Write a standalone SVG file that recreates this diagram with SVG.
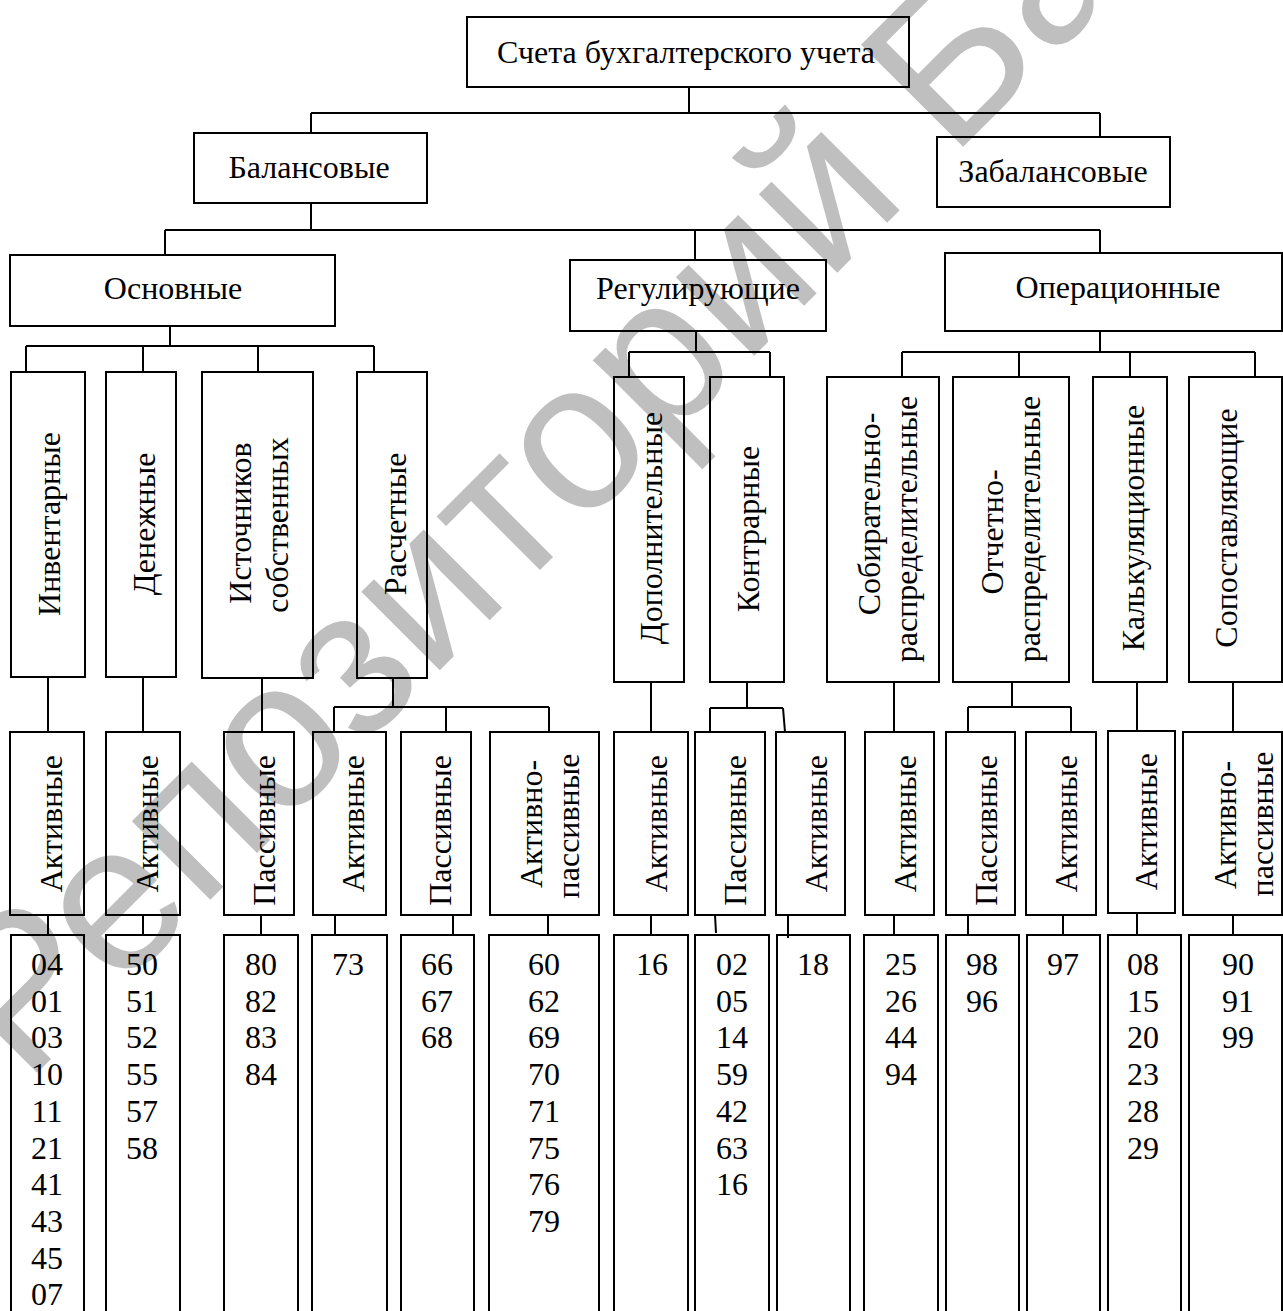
<svg xmlns="http://www.w3.org/2000/svg" width="1283" height="1311" viewBox="0 0 1283 1311">
<style>
.b{fill:none;stroke:#000;stroke-width:2}
.c{fill:none;stroke:#000;stroke-width:2}
.t{font-family:"Liberation Serif","Times New Roman",serif;font-size:32px;fill:#000}
.m{text-anchor:middle}
.e{text-anchor:end}
.wm{font-family:"Liberation Sans",Arial,sans-serif;font-size:210px;fill:#bfbfbf}
</style>
<rect width="1283" height="1311" fill="#fff"/>
<text class="wm" x="25" y="1085" transform="rotate(-45 25 1085)">Репозиторий БарГУ</text>

<g id="connectors">
<path class="c" d="M689 87V113M311 113H1100M311 113V133M1100 113V137"/>
<path class="c" d="M311 203V230M165 230H1100M165 230V255M695 230V260M1100 230V253"/>
<path class="c" d="M170 326V346M26 346H374M26 346V372M143 346V372M258 346V372M374 346V372"/>
<path class="c" d="M696 331V352M629 352H770M629 352V377M770 352V377"/>
<path class="c" d="M1100 331V352M902 352H1255M902 352V377M1019 352V377M1130 352V377M1255 352V377"/>
<path class="c" d="M48 677V732M143 677V732M262 678V732"/>
<path class="c" d="M393 678V707M334 707H549M334 707V732M446 707V732M549 707V732"/>
<path class="c" d="M651 682V732M747 682V708M710 708H783M710 708V732M783 708L785 732"/>
<path class="c" d="M894 682V732M1012 682V707M968 707H1071M968 707V732M1071 707V732M1137 682V731M1233 682V732"/>
<path class="c" d="M48 915V935M143 915V935M261 915V935M335 915V935M453 915V935M548 915V935M651 915V935M715 915L716 933M788 915V938M894 915V935M968 915V935M1063 915V935M1137 913V935M1233 915V935"/>
</g>

<g id="n-root"><rect class="b" x="467" y="17" width="442" height="70"/><text class="t m" x="686" y="63">Счета бухгалтерского учета</text></g>
<g id="n-balance"><rect class="b" x="194" y="133" width="233" height="70"/><text class="t m" x="309" y="178">Балансовые</text></g>
<g id="n-offbalance"><rect class="b" x="937" y="137" width="233" height="70"/><text class="t m" x="1053" y="182">Забалансовые</text></g>
<g id="n-osn"><rect class="b" x="10" y="255" width="325" height="71"/><text class="t m" x="173" y="299">Основные</text></g>
<g id="n-reg"><rect class="b" x="570" y="260" width="256" height="71"/><text class="t m" x="698" y="299">Регулирующие</text></g>
<g id="n-oper"><rect class="b" x="945" y="253" width="337" height="78"/><text class="t m" x="1118" y="298">Операционные</text></g>

<g id="n-inv"><rect class="b" x="11" y="372" width="74" height="305"/><text class="t m" transform="translate(60 524) rotate(-90)">Инвентарные</text></g>
<g id="n-den"><rect class="b" x="106" y="372" width="70" height="305"/><text class="t m" transform="translate(155 524) rotate(-90)">Денежные</text></g>
<g id="n-ist"><rect class="b" x="202" y="372" width="111" height="306"/><text class="t m" transform="translate(251 523) rotate(-90)">Источников</text><text class="t m" transform="translate(288 525) rotate(-90)">собственных</text></g>
<g id="n-ras"><rect class="b" x="357" y="372" width="70" height="306"/><text class="t m" transform="translate(406 524) rotate(-90)">Расчетные</text></g>
<g id="n-dop"><rect class="b" x="614" y="377" width="70" height="305"/><text class="t m" transform="translate(662 528) rotate(-90)">Дополнительные</text></g>
<g id="n-kontr"><rect class="b" x="710" y="377" width="74" height="305"/><text class="t m" transform="translate(759 529) rotate(-90)">Контрарные</text></g>
<g id="n-sob"><rect class="b" x="827" y="377" width="112" height="305"/><text class="t m" transform="translate(880 514) rotate(-90)">Собирательно-</text><text class="t m" transform="translate(917 529) rotate(-90)">распределительные</text></g>
<g id="n-otch"><rect class="b" x="953" y="377" width="116" height="305"/><text class="t m" transform="translate(1003 532) rotate(-90)">Отчетно-</text><text class="t m" transform="translate(1040 529) rotate(-90)">распределительные</text></g>
<g id="n-kalk"><rect class="b" x="1093" y="377" width="74" height="305"/><text class="t m" transform="translate(1144 528) rotate(-90)">Калькуляционные</text></g>
<g id="n-sop"><rect class="b" x="1189" y="377" width="93" height="305"/><text class="t m" transform="translate(1237 528) rotate(-90)">Сопоставляющие</text></g>

<g id="r3-1"><rect class="b" x="10" y="732" width="74" height="183"/><text class="t e" transform="translate(62 755) rotate(-90)">Активные</text></g>
<g id="r3-2"><rect class="b" x="106" y="732" width="74" height="183"/><text class="t e" transform="translate(158 755) rotate(-90)">Активные</text></g>
<g id="r3-3"><rect class="b" x="224" y="732" width="70" height="183"/><text class="t e" transform="translate(275 755) rotate(-90)">Пассивные</text></g>
<g id="r3-4"><rect class="b" x="313" y="732" width="73" height="183"/><text class="t e" transform="translate(364 755) rotate(-90)">Активные</text></g>
<g id="r3-5"><rect class="b" x="401" y="732" width="70" height="183"/><text class="t e" transform="translate(451 755) rotate(-90)">Пассивные</text></g>
<g id="r3-6"><rect class="b" x="490" y="732" width="109" height="183"/><text class="t m" transform="translate(542 824) rotate(-90)">Активно-</text><text class="t m" transform="translate(579 826) rotate(-90)">пассивные</text></g>
<g id="r3-7"><rect class="b" x="614" y="732" width="74" height="183"/><text class="t e" transform="translate(667 755) rotate(-90)">Активные</text></g>
<g id="r3-8"><rect class="b" x="695" y="732" width="70" height="183"/><text class="t e" transform="translate(746 755) rotate(-90)">Пассивные</text></g>
<g id="r3-9"><rect class="b" x="776" y="732" width="69" height="183"/><text class="t e" transform="translate(827 755) rotate(-90)">Активные</text></g>
<g id="r3-10"><rect class="b" x="865" y="732" width="69" height="183"/><text class="t e" transform="translate(916 755) rotate(-90)">Активные</text></g>
<g id="r3-11"><rect class="b" x="946" y="732" width="69" height="183"/><text class="t e" transform="translate(997 755) rotate(-90)">Пассивные</text></g>
<g id="r3-12"><rect class="b" x="1026" y="732" width="70" height="183"/><text class="t e" transform="translate(1077 755) rotate(-90)">Активные</text></g>
<g id="r3-13"><rect class="b" x="1108" y="731" width="67" height="182"/><text class="t e" transform="translate(1157 753) rotate(-90)">Активные</text></g>
<g id="r3-14"><rect class="b" x="1183" y="732" width="99" height="183"/><text class="t m" transform="translate(1236 825) rotate(-90)">Активно-</text><text class="t m" transform="translate(1273 824) rotate(-90)">пассивные</text></g>

<g id="num-1"><rect class="b" x="11" y="935" width="73" height="400"/><text class="t m"><tspan x="47" y="975">04</tspan><tspan x="47" dy="36.7">01</tspan><tspan x="47" dy="36.7">03</tspan><tspan x="47" dy="36.7">10</tspan><tspan x="47" dy="36.7">11</tspan><tspan x="47" dy="36.7">21</tspan><tspan x="47" dy="36.7">41</tspan><tspan x="47" dy="36.7">43</tspan><tspan x="47" dy="36.7">45</tspan><tspan x="47" dy="36.7">07</tspan></text></g>
<g id="num-2"><rect class="b" x="106" y="935" width="74" height="400"/><text class="t m"><tspan x="142" y="975">50</tspan><tspan x="142" dy="36.7">51</tspan><tspan x="142" dy="36.7">52</tspan><tspan x="142" dy="36.7">55</tspan><tspan x="142" dy="36.7">57</tspan><tspan x="142" dy="36.7">58</tspan></text></g>
<g id="num-3"><rect class="b" x="224" y="935" width="74" height="400"/><text class="t m"><tspan x="261" y="975">80</tspan><tspan x="261" dy="36.7">82</tspan><tspan x="261" dy="36.7">83</tspan><tspan x="261" dy="36.7">84</tspan></text></g>
<g id="num-4"><rect class="b" x="312" y="935" width="75" height="400"/><text class="t m" x="348" y="975">73</text></g>
<g id="num-5"><rect class="b" x="401" y="935" width="73" height="400"/><text class="t m"><tspan x="437" y="975">66</tspan><tspan x="437" dy="36.7">67</tspan><tspan x="437" dy="36.7">68</tspan></text></g>
<g id="num-6"><rect class="b" x="489" y="935" width="110" height="400"/><text class="t m"><tspan x="544" y="975">60</tspan><tspan x="544" dy="36.7">62</tspan><tspan x="544" dy="36.7">69</tspan><tspan x="544" dy="36.7">70</tspan><tspan x="544" dy="36.7">71</tspan><tspan x="544" dy="36.7">75</tspan><tspan x="544" dy="36.7">76</tspan><tspan x="544" dy="36.7">79</tspan></text></g>
<g id="num-7"><rect class="b" x="614" y="935" width="74" height="400"/><text class="t m" x="652" y="975">16</text></g>
<g id="num-8"><rect class="b" x="695" y="935" width="74" height="400"/><text class="t m"><tspan x="732" y="975">02</tspan><tspan x="732" dy="36.7">05</tspan><tspan x="732" dy="36.7">14</tspan><tspan x="732" dy="36.7">59</tspan><tspan x="732" dy="36.7">42</tspan><tspan x="732" dy="36.7">63</tspan><tspan x="732" dy="36.7">16</tspan></text></g>
<g id="num-9"><rect class="b" x="777" y="935" width="73" height="400"/><text class="t m" x="813" y="975">18</text></g>
<g id="num-10"><rect class="b" x="864" y="935" width="74" height="400"/><text class="t m"><tspan x="901" y="975">25</tspan><tspan x="901" dy="36.7">26</tspan><tspan x="901" dy="36.7">44</tspan><tspan x="901" dy="36.7">94</tspan></text></g>
<g id="num-11"><rect class="b" x="946" y="935" width="73" height="400"/><text class="t m"><tspan x="982" y="975">98</tspan><tspan x="982" dy="36.7">96</tspan></text></g>
<g id="num-12"><rect class="b" x="1027" y="935" width="73" height="400"/><text class="t m" x="1063" y="975">97</text></g>
<g id="num-13"><rect class="b" x="1108" y="935" width="73" height="400"/><text class="t m"><tspan x="1143" y="975">08</tspan><tspan x="1143" dy="36.7">15</tspan><tspan x="1143" dy="36.7">20</tspan><tspan x="1143" dy="36.7">23</tspan><tspan x="1143" dy="36.7">28</tspan><tspan x="1143" dy="36.7">29</tspan></text></g>
<g id="num-14"><rect class="b" x="1189" y="935" width="93" height="400"/><text class="t m"><tspan x="1238" y="975">90</tspan><tspan x="1238" dy="36.7">91</tspan><tspan x="1238" dy="36.7">99</tspan></text></g>
</svg>
